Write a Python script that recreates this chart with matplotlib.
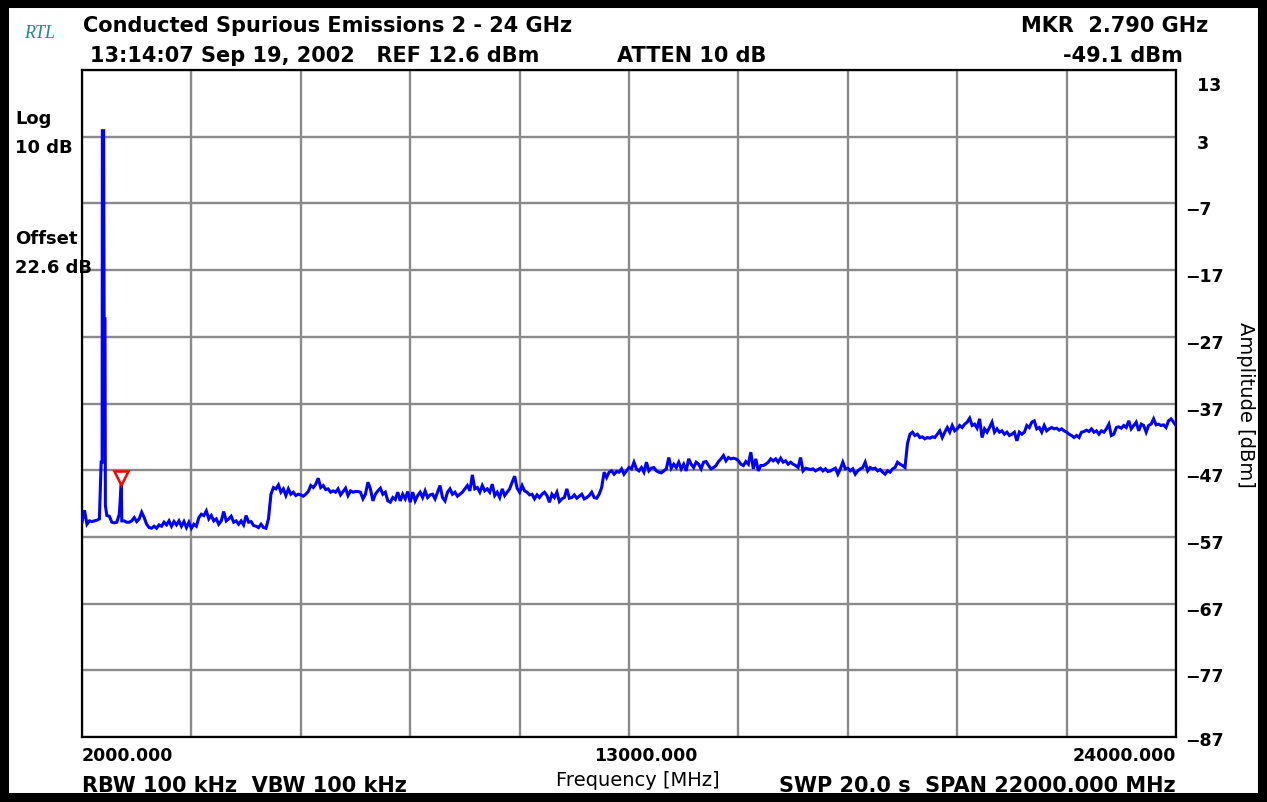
import numpy as np
import matplotlib
matplotlib.use("Agg")
import matplotlib.pyplot as plt
from matplotlib.patches import Rectangle
from matplotlib.transforms import ScaledTranslation

# ---------------- data ----------------
sweep_start_mhz = 2000
sweep_step_mhz = 50
# measured trace level (dBm) every 50 MHz from 2000 to 24000 MHz
levels_dbm = [
    -54.8, -53.0, -55.1, -54.6, -54.7, -54.6, -54.5, -54.3, -45.8, -24.3,   # 2000-2450
    -53.8, -53.9, -54.8, -54.9, -54.8, -53.6, -54.6, -54.6, -54.8, -54.8,   # 2500-2950
    -54.6, -54.1, -54.7, -54.3, -53.3, -54.1, -55.1, -55.6, -55.7, -55.4,   # 3000-3450
    -55.7, -55.2, -55.4, -54.8, -55.2, -54.6, -55.4, -54.7, -55.2, -54.6,   # 3500-3950
    -55.4, -54.7, -55.6, -54.8, -55.7, -55.1, -55.4, -54.1, -53.6, -53.8,   # 4000-4450
    -53.1, -54.3, -53.8, -54.6, -54.3, -55.1, -54.6, -53.2, -54.6, -54.3,   # 4500-4950
    -53.9, -54.8, -54.6, -55.1, -54.6, -55.2, -53.8, -54.8, -54.7, -55.3,   # 5000-5450
    -55.4, -55.6, -55.1, -55.6, -55.7, -54.3, -50.6, -49.6, -49.8, -49.2,   # 5500-5950
    -50.3, -49.8, -50.8, -49.8, -50.6, -50.3, -50.8, -50.6, -50.7, -50.9,   # 6000-6450
    -50.6, -50.2, -49.3, -49.6, -49.1, -48.2, -49.6, -49.3, -49.9, -49.8,   # 6500-6950
    -50.3, -50.1, -50.3, -49.8, -50.7, -50.2, -49.7, -50.8, -50.1, -50.3,   # 7000-7450
    -50.2, -50.2, -50.3, -51.3, -50.6, -48.8, -49.8, -51.6, -50.6, -50.1,   # 7500-7950
    -49.7, -50.6, -50.3, -51.6, -51.8, -51.1, -51.4, -50.3, -51.6, -50.6,   # 8000-8450
    -51.3, -50.2, -51.8, -50.3, -51.6, -50.8, -50.3, -51.1, -50.1, -51.1,   # 8500-8950
    -50.7, -50.6, -51.3, -50.3, -49.3, -51.1, -51.6, -50.3, -49.8, -50.6,   # 9000-9450
    -50.3, -50.9, -50.6, -50.3, -49.8, -49.3, -50.1, -47.7, -49.8, -49.6,   # 9500-9950
    -50.3, -49.3, -50.1, -49.8, -50.3, -49.1, -50.8, -50.3, -51.1, -49.8,   # 10000-10450
    -50.8, -50.3, -49.8, -48.8, -47.9, -49.7, -50.3, -49.3, -50.1, -50.3,   # 10500-10950
    -50.7, -50.6, -51.3, -50.7, -51.1, -50.6, -50.3, -50.8, -51.8, -50.6,   # 11000-11450
    -51.1, -50.3, -51.7, -51.3, -51.1, -49.8, -51.2, -51.1, -50.7, -51.2,   # 11500-11950
    -50.9, -50.6, -51.3, -51.1, -50.8, -50.3, -51.1, -51.2, -50.6, -49.6,   # 12000-12450
    -47.3, -48.1, -47.3, -47.1, -47.6, -47.2, -47.3, -46.8, -47.6, -47.1,   # 12500-12950
    -46.6, -46.8, -45.8, -46.8, -47.1, -46.6, -47.3, -45.8, -47.1, -46.7,   # 13000-13450
    -46.6, -47.1, -47.3, -47.4, -47.1, -46.8, -45.1, -46.7, -46.1, -46.6,   # 13500-13950
    -45.8, -46.8, -46.1, -47.1, -45.3, -46.1, -46.6, -45.8, -46.1, -46.8,   # 14000-14450
    -45.8, -45.7, -46.3, -46.8, -46.6, -46.3, -45.7, -45.3, -44.8, -45.6,   # 14500-14950
    -45.1, -45.3, -45.2, -45.3, -45.6, -46.1, -46.3, -45.7, -46.1, -44.3,   # 15000-15450
    -46.8, -45.3, -47.1, -46.3, -46.3, -46.1, -45.8, -45.3, -45.6, -45.3,   # 15500-15950
    -45.8, -45.2, -45.8, -45.6, -46.1, -45.8, -46.1, -46.3, -46.6, -45.1,   # 16000-16450
    -47.1, -46.7, -46.8, -46.9, -46.8, -47.1, -46.9, -46.7, -47.1, -46.8,   # 16500-16950
    -47.2, -47.1, -46.9, -46.7, -47.6, -46.8, -45.8, -46.8, -46.7, -47.1,   # 17000-17450
    -46.8, -47.6, -47.1, -46.8, -46.6, -45.8, -47.1, -46.6, -46.8, -46.7,   # 17500-17950
    -47.1, -46.9, -47.3, -47.6, -47.1, -47.3, -46.8, -46.6, -45.8, -46.1,   # 18000-18450
    -46.3, -46.6, -43.0, -41.6, -41.3, -41.8, -41.6, -42.1, -42.0, -42.3,   # 18500-18950
    -42.1, -42.2, -42.0, -42.1, -41.6, -41.1, -42.1, -41.3, -40.6, -41.3,   # 19000-19450
    -40.3, -41.1, -40.8, -40.3, -40.6, -40.1, -39.8, -39.2, -40.3, -40.1,   # 19500-19950
    -40.7, -39.3, -42.1, -40.8, -41.3, -40.6, -39.8, -41.3, -40.8, -41.3,   # 20000-20450
    -41.1, -41.6, -41.3, -41.8, -41.6, -41.3, -42.6, -41.3, -41.6, -41.3,   # 20500-20950
    -40.3, -40.6, -39.8, -39.6, -40.8, -40.6, -41.3, -40.3, -41.1, -40.8,   # 21000-21450
    -40.6, -40.8, -40.7, -41.0, -40.8, -41.1, -41.3, -41.6, -41.8, -42.1,   # 21500-21950
    -41.8, -42.1, -41.3, -41.2, -41.0, -41.2, -40.8, -41.3, -41.1, -41.6,   # 22000-22450
    -41.1, -41.3, -40.8, -40.1, -41.8, -41.6, -40.6, -40.5, -40.7, -40.3,   # 22500-22950
    -40.6, -39.6, -40.8, -40.3, -39.8, -41.1, -40.1, -40.3, -41.3, -40.3,   # 23000-23450
    -40.1, -39.3, -40.2, -40.1, -40.3, -40.2, -40.6, -39.6, -39.3, -39.8,   # 23500-23950
    -40.3,                                                                   # 24000
]
# extra samples around the 2.4 GHz carrier
carrier_freqs_mhz = [2385, 2405, 2410, 2435, 2445, 2462, 2470]
carrier_levels_dbm = [-45.8, -45.8, 3.9, 3.9, -24.3, -24.3, -52.3]
# marker
marker_freq_mhz = 2790
marker_level_dbm = -49.1

xtick_values = [2000, 4200, 6400, 8600, 10800, 13000, 15200, 17400, 19600, 21800, 24000]
xtick_labels = {2000: "2000.000", 13000: "13000.000", 24000: "24000.000"}
ytick_values = [13, 3, -7, -17, -27, -37, -47, -57, -67, -77, -87]

title = "Conducted Spurious Emissions 2 - 24 GHz"
line2 = "13:14:07 Sep 19, 2002   REF 12.6 dBm"
atten = "ATTEN 10 dB"
mkr1 = "MKR  2.790 GHz"
mkr2 = "-49.1 dBm"
left_notes = [("Log", 124), ("10 dB", 153), ("Offset", 244), ("22.6 dB", 273)]
bw_text = "RBW 100 kHz  VBW 100 kHz"
swp_text = "SWP 20.0 s  SPAN 22000.000 MHz"
xlabel = "Frequency [MHz]"
ylabel = "Amplitude [dBm]"

# ---------------- build trace ----------------
sweep_freqs = sweep_start_mhz + sweep_step_mhz * np.arange(len(levels_dbm))
freqs = np.concatenate([sweep_freqs, carrier_freqs_mhz, [marker_freq_mhz]])
levels = np.concatenate([levels_dbm, carrier_levels_dbm, [marker_level_dbm]])
order = np.argsort(freqs, kind="stable")
freqs = freqs[order]
levels = levels[order]

# ---------------- figure ----------------
W, H = 1267, 803
plt.rcParams['font.family'] = ['DejaVu Sans']
fig = plt.figure(figsize=(W / 100, H / 100), dpi=100)
fig.patch.set_facecolor("white")

L, R, T, B = 82, 1176, 71, 738
ax = fig.add_axes([L / W, 1 - B / H, (R - L) / W, (B - T) / H])
ax.set_xlim(2000, 24000)
ax.set_ylim(-87, 13)
ax.set_xticks(xtick_values)
ax.set_yticks(ytick_values)
ax.set_xticklabels([])
ax.set_yticklabels([])
ax.tick_params(length=0)
ax.grid(True, color="#8a8a8a", lw=1.7)
ax.set_axisbelow(True)
for s in ax.spines.values():
    s.set_color("black")
    s.set_linewidth(1.6)

ax.plot(freqs, levels, color="#0000ff", lw=2.2, solid_joinstyle="miter", zorder=3)
ax.plot([marker_freq_mhz], [marker_level_dbm], marker="v", ms=10, mfc="white",
        mec="#ff0000", mew=1.8, ls="none", zorder=4,
        transform=ax.transData + ScaledTranslation(0, 6 / 100, fig.dpi_scale_trans))

# y tick labels on the right
for v in ytick_values:
    dy = -6
    if v == ytick_values[0]:
        dy = -15
    elif v == ytick_values[-1]:
        dy = -3
    lab = ("\u2212" + str(abs(v))) if v < 0 else ("\u2007" + str(v))
    ax.text(1.0, v, lab, transform=ax.get_yaxis_transform()
            + ScaledTranslation(9 / 100, dy / 100, fig.dpi_scale_trans),
            ha="left", va="center", fontsize=12.5, fontweight="bold")

# x tick labels
xform = ax.get_xaxis_transform()
for v, lab in xtick_labels.items():
    if v == 2000:
        ha, dx = "left", 0
    elif v == 24000:
        ha, dx = "right", 0
    else:
        ha, dx = "center", 17
    ax.text(v, 0, lab, transform=xform + ScaledTranslation(dx / 100, -23 / 100, fig.dpi_scale_trans),
            ha=ha, va="baseline", fontsize=12.5, fontweight="bold")

def ftext(x, y, s, **kw):
    fig.text(x / W, 1 - y / H, s, **kw)

bold = dict(fontsize=15, fontweight="bold", va="baseline")
ftext(24, 38, "RTL", family=["Liberation Serif"], style="italic", fontsize=13,
      color="#208a8a", va="baseline")
ftext(83, 32, title, ha="left", **bold)
ftext(90, 62, line2, ha="left", **bold)
ftext(617, 62, atten, ha="left", **bold)
ftext(1208, 32, mkr1, ha="right", **bold)
ftext(1183, 62, mkr2, ha="right", **bold)
for s, yb in left_notes:
    ftext(15, yb, s, ha="left", fontsize=13, fontweight="bold", va="baseline", zorder=10)
ftext(82, 792, bw_text, ha="left", **bold)
ftext(1176, 792, swp_text, ha="right", **bold)
ftext(638, 786, xlabel, ha="center", fontsize=14, va="baseline")
ftext(1245, 405, ylabel, ha="center", va="center", fontsize=14, rotation=-90)

fig.add_artist(Rectangle((0, 0), 1, 1, transform=fig.transFigure, fill=False,
                         ec="black", lw=13, zorder=20))

fig.savefig("out.png", dpi=100, facecolor="white")
